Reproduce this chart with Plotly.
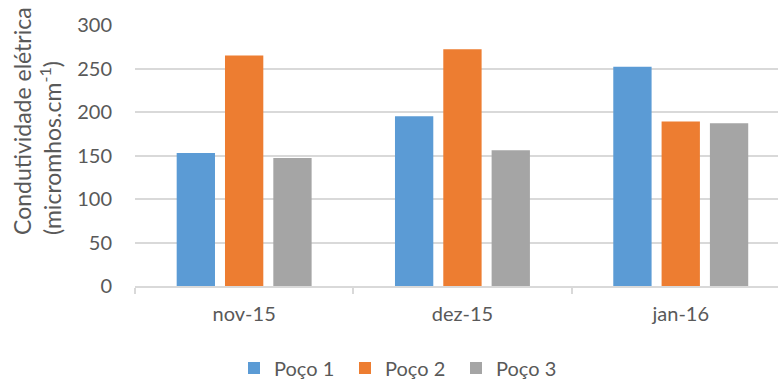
import plotly.graph_objects as go

# Monthly electrical conductivity per well
months = ["nov-15", "dez-15", "jan-16"]
poco1 = [153, 195, 252]
poco2 = [265, 272, 189]
poco3 = [147, 156, 187]

series_names = ["Poço 1", "Poço 2", "Poço 3"]
series_colors = ["#5B9BD5", "#ED7D31", "#A5A5A5"]
y_ticks = [0, 50, 100, 150, 200, 250, 300]

W, H = 778, 381
M_L, M_R, M_T, M_B = 135, 0, 25, 95
text_color = "#595959"
font_family = "Lato, 'Open Sans', sans-serif"

fig = go.Figure()
for name, vals, color in zip(series_names, [poco1, poco2, poco3], series_colors):
    fig.add_trace(go.Bar(x=months, y=vals, name=name, marker_color=color,
                         marker_line_width=0))

plot_w = W - M_L - M_R
plot_h = H - M_T - M_B
cat_px = 218.3  # width of one category in pixels


def px_x(px):
    return (px - M_L) / plot_w


def px_y(py):
    return (H - M_B - py) / plot_h


fig.update_layout(
    width=W, height=H,
    margin=dict(l=M_L, r=M_R, t=M_T, b=M_B, pad=0, autoexpand=False),
    paper_bgcolor="white", plot_bgcolor="white",
    barmode="group", bargap=0.336, bargroupgap=0.207,
    font=dict(family=font_family, color=text_color, size=20),
    showlegend=True,
    legend=dict(orientation="h", x=px_x(234), xanchor="left",
                y=px_y(368), yanchor="middle",
                font=dict(size=20, color=text_color),
                entrywidth=66, entrywidthmode="pixels",
                itemclick=False, bgcolor="rgba(0,0,0,0)"),
)

fig.update_xaxes(
    type="category",
    range=[-0.5, -0.5 + plot_w / cat_px],
    showline=True, linecolor="#D9D9D9", linewidth=1.5,
    ticks="outside", tickson="boundaries", ticklen=6, tickcolor="#D9D9D9",
    tickwidth=1.5, showgrid=False, ticklabelstandoff=9,
    tickfont=dict(size=20, color=text_color),
)
fig.update_yaxes(
    range=[0, 300], tickvals=y_ticks,
    showgrid=True, gridcolor="#D9D9D9", gridwidth=1.5,
    zeroline=False, showline=False, ticks="",
    ticklabelstandoff=22,
    tickfont=dict(size=20, color=text_color),
)

fig.add_annotation(
    text="Condutividade elétrica<br>(micromhos.cm<sup>-1</sup>)",
    textangle=-90, align="left",
    xref="paper", yref="paper",
    x=px_x(37), y=px_y(121), xanchor="center", yanchor="middle",
    showarrow=False, font=dict(size=23, color=text_color),
)

fig.write_html("out.html")
